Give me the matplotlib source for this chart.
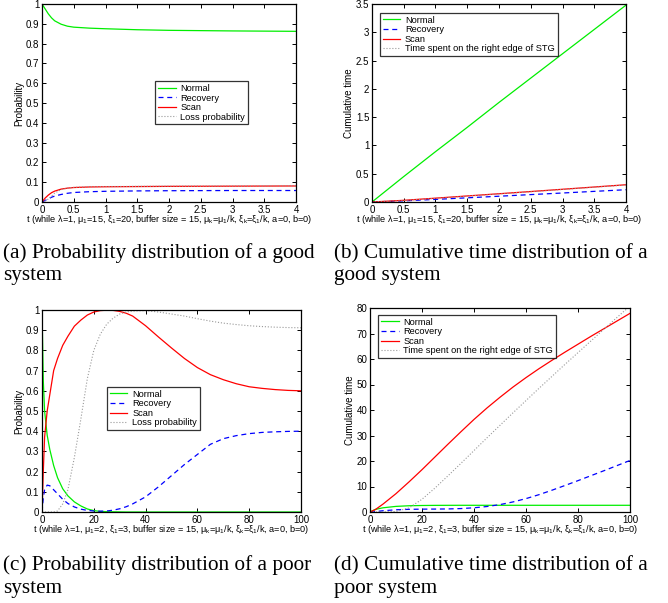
import matplotlib
matplotlib.use("Agg")
import matplotlib.pyplot as plt

plt.rcParams['font.family'] = ['Liberation Sans', 'DejaVu Sans']
plt.rcParams['mathtext.fontset'] = 'custom'
plt.rcParams['mathtext.rm'] = 'Liberation Sans'
plt.rcParams['mathtext.it'] = 'Liberation Sans:italic'
plt.rcParams['mathtext.default'] = 'regular'

# (a) probability, good system
t_a = [0, 0.05, 0.1, 0.15, 0.2, 0.3, 0.4, 0.5, 0.75, 1, 1.5, 2, 3, 4]
normal_a = [1.0, 0.975, 0.95, 0.93, 0.915, 0.898, 0.888, 0.883, 0.878, 0.875, 0.87, 0.867, 0.864, 0.862]
recovery_a = [0, 0.008, 0.016, 0.024, 0.03, 0.038, 0.044, 0.048, 0.052, 0.054, 0.056, 0.057, 0.058, 0.058]
scan_a = [0, 0.02, 0.035, 0.047, 0.055, 0.065, 0.07, 0.073, 0.076, 0.077, 0.078, 0.079, 0.08, 0.081]
loss_a = [0, 0.005, 0.015, 0.03, 0.045, 0.062, 0.07, 0.074, 0.077, 0.078, 0.079, 0.08, 0.081, 0.082]

# (b) cumulative time, good system
t_b = [0, 0.5, 1, 1.5, 2, 2.5, 3, 3.5, 4]
normal_b = [0, 0.45, 0.89, 1.32, 1.76, 2.19, 2.62, 3.05, 3.48]
recovery_b = [0, 0.02, 0.046, 0.074, 0.102, 0.131, 0.159, 0.188, 0.217]
scan_b = [0, 0.03, 0.068, 0.107, 0.146, 0.185, 0.225, 0.265, 0.305]
edge_b = [0, 0.026, 0.064, 0.103, 0.142, 0.181, 0.221, 0.261, 0.3]

# (c) probability, poor system
t_c = [0, 0.5, 1, 2, 3, 4.5, 6, 8, 10, 12.5, 15, 17.5, 20, 22.5, 25, 27.5, 30, 32.5,
       35, 40, 45, 50, 55, 60, 65, 70, 75, 80, 85, 90, 95, 100]
normal_c = [1.0, 0.65, 0.5, 0.38, 0.31, 0.23, 0.17, 0.115, 0.08, 0.05, 0.03, 0.015, 0.007,
            0.003, 0.0015, 0.001, 0.0005, 0, 0, 0, 0, 0, 0, 0, 0, 0, 0, 0, 0, 0, 0, 0]
recovery_c = [0, 0.07, 0.11, 0.133, 0.13, 0.11, 0.09, 0.063, 0.042, 0.025, 0.014, 0.008, 0.005,
              0.004, 0.005, 0.009, 0.016, 0.026, 0.04, 0.075, 0.125, 0.18, 0.235, 0.285, 0.335,
              0.363, 0.378, 0.388, 0.394, 0.397, 0.399, 0.4]
scan_c = [0, 0.2, 0.37, 0.5, 0.58, 0.7, 0.76, 0.825, 0.87, 0.92, 0.95, 0.975, 0.99, 0.997,
          0.999, 0.998, 0.993, 0.984, 0.97, 0.922, 0.866, 0.812, 0.76, 0.715, 0.68, 0.655,
          0.635, 0.62, 0.612, 0.606, 0.602, 0.6]
loss_c = [0, 0, 0, 0, 0, 0, 0.005, 0.04, 0.11, 0.27, 0.46, 0.66, 0.8, 0.88, 0.93, 0.96, 0.98,
          0.99, 0.995, 0.997, 0.99, 0.98, 0.97, 0.957, 0.945, 0.935, 0.928, 0.922, 0.918,
          0.915, 0.913, 0.912]

# (d) cumulative time, poor system
t_d = [0, 2, 5, 10, 15, 20, 25, 30, 35, 40, 45, 50, 55, 60, 65, 70, 75, 80, 85, 90, 95, 100]
normal_d = [0, 1.0, 1.65, 2.2, 2.45, 2.55, 2.6, 2.62, 2.63, 2.63, 2.63, 2.63, 2.63, 2.63,
            2.63, 2.63, 2.63, 2.63, 2.63, 2.63, 2.63, 2.63]
recovery_d = [0, 0.15, 0.5, 0.87, 1.05, 1.12, 1.15, 1.2, 1.35, 1.65, 2.15, 2.9, 3.95, 5.25,
              6.8, 8.55, 10.4, 12.3, 14.25, 16.2, 18.2, 20.2]
scan_d = [0, 0.9, 3.1, 7.2, 11.8, 16.6, 21.6, 26.6, 31.5, 36.3, 40.8, 45, 49, 52.7, 56.2,
          59.5, 62.7, 65.8, 68.9, 71.9, 74.9, 77.9]
edge_d = [0, 0, 0, 0.2, 1.6, 5.0, 9.4, 14.2, 19.1, 24.1, 29.1, 34, 38.9, 43.7, 48.5, 53.2,
          57.9, 62.5, 67.1, 71.7, 76.3, 80.8]

xlab_good = (r't (while λ=1, μ$_1$=15, ξ$_1$=20, buffer size = 15, '
             r'μ$_k$=μ$_1$/k, ξ$_k$=ξ$_1$/k, a=0, b=0)')
xlab_poor = (r't (while λ=1, μ$_1$=2, ξ$_1$=3, buffer size = 15, '
             r'μ$_k$=μ$_1$/k, ξ$_k$=ξ$_1$/k, a=0, b=0)')

W, H = 668, 603
fig = plt.figure(figsize=(W / 100, H / 100), dpi=100)


def make_axes(left, top, right, bottom):
    ax = fig.add_axes([left / W, 1 - bottom / H, (right - left) / W, (bottom - top) / H])
    ax.tick_params(direction='in', top=True, right=True, length=3, width=0.7,
                   labelsize=7, pad=2)
    for s in ax.spines.values():
        s.set_linewidth(0.9)
    return ax


def fmt(v):
    return ('%g' % v)


def draw(ax, t, normal, rec, scan, extra, extra_name, xlab, ylab, xlim, ylim,
         xticks, yticks, leg_xy):
    ax.plot(t, normal, color='#00ee00', lw=0.9, label='Normal')
    ax.plot(t, rec, color='#0000ff', lw=0.9, dashes=(4, 3), label='Recovery')
    ax.plot(t, scan, color='#ff0000', lw=0.9, label='Scan')
    ax.plot(t, extra, color='#999999', lw=0.8, ls=':', label=extra_name)
    ax.set_xlim(*xlim)
    ax.set_ylim(*ylim)
    ax.set_xticks(xticks)
    ax.set_xticklabels([fmt(v) for v in xticks])
    ax.set_yticks(yticks)
    ax.set_yticklabels([fmt(v) for v in yticks])
    ax.set_xlabel(xlab, fontsize=6.6, labelpad=-1)
    ax.set_ylabel(ylab, fontsize=7, labelpad=1)
    leg = ax.legend(loc='upper left', bbox_to_anchor=leg_xy, fontsize=6.7,
                    frameon=True, fancybox=False, borderaxespad=0, handlelength=1.9,
                    handletextpad=0.5, labelspacing=0.06, borderpad=0.3)
    leg.get_frame().set_edgecolor('black')
    leg.get_frame().set_linewidth(0.9)


ticks_04 = [0, 0.5, 1, 1.5, 2, 2.5, 3, 3.5, 4]
ticks_p = [0, 0.1, 0.2, 0.3, 0.4, 0.5, 0.6, 0.7, 0.8, 0.9, 1]
ticks_100 = [0, 20, 40, 60, 80, 100]

ax = make_axes(42, 4, 296, 202)
draw(ax, t_a, normal_a, recovery_a, scan_a, loss_a, 'Loss probability', xlab_good,
     'Probability', (0, 4), (0, 1), ticks_04, ticks_p, (0.445, 0.61))

ax = make_axes(372, 4, 626, 202)
draw(ax, t_b, normal_b, recovery_b, scan_b, edge_b, 'Time spent on the right edge of STG',
     xlab_good, 'Cumulative time', (0, 4), (0, 3.5), ticks_04,
     [0, 0.5, 1, 1.5, 2, 2.5, 3, 3.5], (0.031, 0.955))

ax = make_axes(42, 310, 301, 512)
draw(ax, t_c, normal_c, recovery_c, scan_c, loss_c, 'Loss probability', xlab_poor,
     'Probability', (0, 100), (0, 1), ticks_100, ticks_p, (0.251, 0.619))

ax = make_axes(370, 308, 630, 512)
draw(ax, t_d, normal_d, recovery_d, scan_d, edge_d, 'Time spent on the right edge of STG',
     xlab_poor, 'Cumulative time', (0, 100), (0, 80), ticks_100,
     [0, 10, 20, 30, 40, 50, 60, 70, 80], (0.031, 0.966))

captions = [
    (3, 258, '(a) Probability distribution of a good'),
    (3, 280, 'system'),
    (334, 258, '(b) Cumulative time distribution of a'),
    (334, 280, 'good system'),
    (3, 570, '(c) Probability distribution of a poor'),
    (3, 593, 'system'),
    (334, 570, '(d) Cumulative time distribution of a'),
    (334, 593, 'poor system'),
]
for x, y, s in captions:
    fig.text(x / W, 1 - y / H, s, fontsize=15.3, family='Liberation Serif',
             ha='left', va='baseline', color='black')

fig.savefig('out.png', dpi=100)
